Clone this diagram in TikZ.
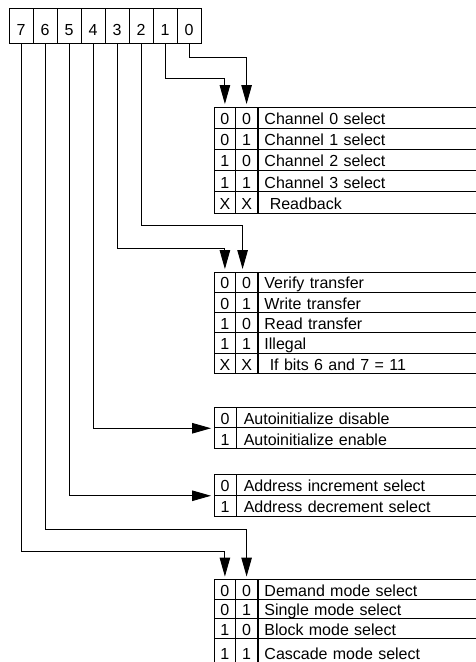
\documentclass[tikz,border=0pt]{standalone}
\usepackage{fontspec}
\setmainfont{Liberation Sans}
\usetikzlibrary{arrows.meta}

\begin{document}
\begin{tikzpicture}[x=1pt,y=-1pt,line width=0.9pt,
  every node/.style={font=\fontsize{16}{18}\selectfont,inner sep=0pt},
  bitbox/.style={draw,minimum width=24pt,minimum height=35.4pt,text height=18pt,text depth=0pt},
  cell/.style={draw,minimum width=21.75pt,minimum height=#1,text height=13.6pt,text depth=0pt},
  txt/.style={draw,anchor=west,minimum height=#1,text width=250pt,inner xsep=6.5pt,align=left,text height=13.6pt,text depth=0pt},
  arr/.style={-{Triangle[length=19pt,width=10.5pt]},shorten >=2.5pt}]
  \clip (0,0) rectangle (476,662);
  % register bits
  \foreach \n [count=\k] in {7,6,...,0}
    \node[bitbox] (b\n) at ({21+24*(\k-1)},26) {\n};
  % bits 1,0
  \foreach \a/\b/\t [count=\i] in {0/0/Channel 0 select,0/1/Channel 1 select,1/0/Channel 2 select,1/1/Channel 3 select,X/X/~Readback} {
    \node[cell=21.2pt] (t1a\i) at (224.9,{107+21.2*(\i-0.5)}) {\a};
    \node[cell=21.2pt] (t1b\i) at (246.6,{107+21.2*(\i-0.5)}) {\b};
    \node[txt=21.2pt] (t1t\i) at (257.5,{107+21.2*(\i-0.5)}) {\t};
  }
  % bits 3,2
  \foreach \a/\b/\t [count=\i] in {0/0/Verify transfer,0/1/Write transfer,1/0/Read transfer,1/1/Illegal,X/X/~If bits 6 and 7 = 11} {
    \node[cell=20.3pt] (t2a\i) at (224.9,{272+20.3*(\i-0.5)}) {\a};
    \node[cell=20.3pt] (t2b\i) at (246.6,{272+20.3*(\i-0.5)}) {\b};
    \node[txt=20.3pt] (t2t\i) at (257.5,{272+20.3*(\i-0.5)}) {\t};
  }
  % bit 4
  \foreach \a/\t [count=\i] in {0/Autoinitialize disable,1/Autoinitialize enable} {
    \node[cell=20.8pt,minimum width=22pt] (t3a\i) at (225,{407+20.8*(\i-0.5)}) {\a};
    \node[txt=20.8pt,inner xsep=7.3pt] (t3t\i) at (236,{407+20.8*(\i-0.5)}) {\t};
  }
  % bit 5
  \foreach \a/\t [count=\i] in {0/Address increment select,1/Address decrement select} {
    \node[cell=20.8pt,minimum width=22pt] (t4a\i) at (225,{474.5+20.8*(\i-0.5)}) {\a};
    \node[txt=20.8pt,inner xsep=7.3pt] (t4t\i) at (236,{474.5+20.8*(\i-0.5)}) {\t};
  }
  % bits 7,6
  \foreach \a/\b/\t [count=\i] in {0/0/Demand mode select,0/1/Single mode select,1/0/Block mode select} {
    \node[cell=19.7pt] (t5a\i) at (224.9,{579.5+19.7*(\i-0.5)}) {\a};
    \node[cell=19.7pt] (t5b\i) at (246.6,{579.5+19.7*(\i-0.5)}) {\b};
    \node[txt=19.7pt] (t5t\i) at (257.5,{579.5+19.7*(\i-0.5)}) {\t};
  }
  \node[cell=24pt,text height=16.8pt] (t5a4) at (224.9,650.6) {1};
  \node[cell=24pt,text height=16.8pt] (t5b4) at (246.6,650.6) {1};
  \node[txt=24pt,text height=16.8pt] (t5t4) at (257.5,650.6) {Cascade mode select};
  % connectors
  \draw[arr] (b0.south) -- ++(0,13.3) -| (t1b1.north);
  \draw[arr] (b1.south) -- ++(0,34.3) -| (t1a1.north);
  \draw[arr] (b2.south) -- ++(0,181.3) -| ([xshift=-4pt]t2b1.north);
  \draw[arr] (b3.south) -- ++(0,204.3) -| (t2a1.north);
  \draw[arr] (b4.south) |- (t3a1.south west);
  \draw[arr] (b5.south) |- (t4a1.south west);
  \draw[arr] (b6.south) -- ++(0,485.6) -| (t5b1.north);
  \draw[arr] (b7.south) -- ++(0,507.3) -| (t5a1.north);
\end{tikzpicture}
\end{document}
